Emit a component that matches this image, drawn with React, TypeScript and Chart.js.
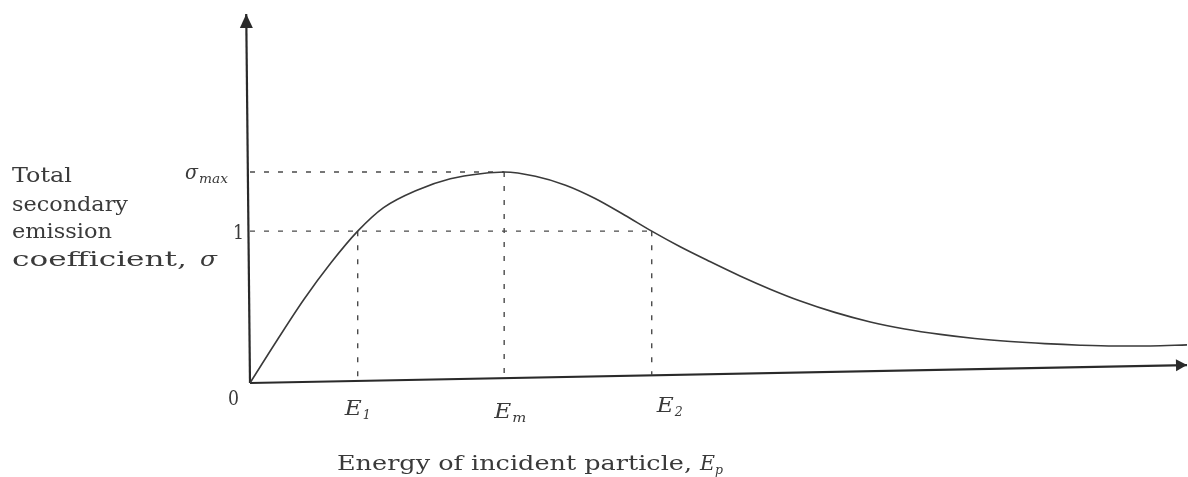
import React, { useEffect, useRef } from "react";
import { Chart, registerables } from "chart.js";

Chart.register(...registerables);

// Total secondary emission coefficient vs. incident particle energy (arbitrary units, E1 = 1)
const energy = [0, 0.25, 0.5, 0.75, 1.0, 1.24, 1.55, 1.86, 2.16, 2.36, 2.65, 2.93, 3.2, 3.48, 3.73, 3.99, 4.27, 4.55, 4.83, 5.11, 5.43, 5.76, 6.08, 6.41, 6.73, 7.06, 7.38, 7.71, 8.03, 8.36, 8.7];
const sigma = [0, 0.28, 0.55, 0.79, 1.0, 1.155, 1.27, 1.345, 1.38, 1.39, 1.362, 1.303, 1.217, 1.105, 1.0, 0.899, 0.8, 0.705, 0.618, 0.54, 0.465, 0.402, 0.356, 0.32, 0.293, 0.273, 0.259, 0.249, 0.244, 0.244, 0.251];

// Characteristic energies and coefficient levels
const E1 = 1.0;
const Em = 2.36;
const E2 = 3.73;
const sigmaMax = 1.39;
const unity = 1;

// Axis lines (the energy axis rises slightly toward its arrow)
const xAxisLine = [
  { x: 0, y: 0 },
  { x: 8.7, y: 0.118 },
];
const yAxisLine = [
  { x: 0, y: 0 },
  { x: -0.035, y: 2.43 },
];

// Text
const yTitleLines = ["Total", "secondary", "emission", "coefficient,"];
const xTitle = "Energy of incident particle,";

const INK = "#3a3a3a";
const AXIS_INK = "#2a2a2a";
const GUIDE_INK = "#4a4a4a";
const SERIF = '"DejaVu Serif", "Liberation Serif", serif';

// height of the energy axis at a given energy
const axisAt = (e: number) =>
  xAxisLine[0].y + ((xAxisLine[1].y - xAxisLine[0].y) * (e - xAxisLine[0].x)) / (xAxisLine[1].x - xAxisLine[0].x);

const guideStyle = {
  borderColor: GUIDE_INK,
  borderWidth: 1.4,
  borderDash: [5, 9],
  pointRadius: 0,
  fill: false,
  clip: false as const,
};

function drawFitted(ctx: CanvasRenderingContext2D, text: string, x: number, y: number, width: number | null, font: string) {
  ctx.save();
  ctx.font = font;
  ctx.textAlign = "left";
  ctx.textBaseline = "alphabetic";
  const w = ctx.measureText(text).width;
  ctx.translate(x, y);
  if (width) ctx.scale(width / w, 1);
  ctx.fillText(text, 0, 0);
  ctx.restore();
}

function drawArrow(ctx: CanvasRenderingContext2D, from: { x: number; y: number }, tip: { x: number; y: number }, len: number, half: number) {
  const dx = tip.x - from.x;
  const dy = tip.y - from.y;
  const d = Math.hypot(dx, dy);
  const ux = dx / d;
  const uy = dy / d;
  const bx = tip.x - ux * len;
  const by = tip.y - uy * len;
  ctx.beginPath();
  ctx.moveTo(tip.x, tip.y);
  ctx.lineTo(bx - uy * half, by + ux * half);
  ctx.lineTo(bx + uy * half, by - ux * half);
  ctx.closePath();
  ctx.fill();
}

const annotations = {
  id: "annotations",
  afterDatasetsDraw(chart: any) {
    const ctx: CanvasRenderingContext2D = chart.ctx;
    const xs = chart.scales.x;
    const ys = chart.scales.y;
    const px = (p: { x: number; y: number }) => ({ x: xs.getPixelForValue(p.x), y: ys.getPixelForValue(p.y) });

    ctx.save();
    ctx.fillStyle = AXIS_INK;
    drawArrow(ctx, px(xAxisLine[0]), px(xAxisLine[1]), 11, 6);
    drawArrow(ctx, px(yAxisLine[0]), px(yAxisLine[1]), 14, 6.5);

    ctx.fillStyle = INK;
    const f = (size: number, italic = false) => `${italic ? "italic " : ""}${size}px ${SERIF}`;

    // vertical axis title, written horizontally to the left
    const titleBase = [182, 211, 238, 266];
    const titleWidth = [60, 116, 100, 175];
    yTitleLines.forEach((line, i) => drawFitted(ctx, line, 12, titleBase[i], titleWidth[i], f(20)));
    drawFitted(ctx, "σ", 200, 266, 17, f(20, true));

    // level labels on the vertical axis
    const yMax = ys.getPixelForValue(sigmaMax);
    drawFitted(ctx, "σ", 185, yMax + 7, 13, f(20, true));
    drawFitted(ctx, "max", 199, yMax + 11, 29, f(13, true));
    const yOne = ys.getPixelForValue(unity);
    drawFitted(ctx, "1", 233, yOne + 8, 11, f(20));
    drawFitted(ctx, "0", 228, ys.getPixelForValue(0) + 22, 11, f(20));

    // characteristic energies on the horizontal axis
    const eLabels = [
      { v: E1, sub: "1", dx: -13, base: 415 },
      { v: Em, sub: "m", dx: -10, base: 418 },
      { v: E2, sub: "2", dx: 5, base: 412 },
    ];
    eLabels.forEach((l) => {
      const x = xs.getPixelForValue(l.v) + l.dx;
      drawFitted(ctx, "E", x, l.base, 17, f(20, true));
      drawFitted(ctx, l.sub, x + 18, l.base + 4, l.sub === "m" ? 14 : 8, f(13, true));
    });

    // horizontal axis title
    drawFitted(ctx, xTitle, 337, 470, 355, f(20));
    drawFitted(ctx, "E", 700, 470, 15, f(20, true));
    drawFitted(ctx, "p", 715, 474, 8, f(13, true));
    ctx.restore();
  },
};

export default function App() {
  const canvasRef = useRef<HTMLCanvasElement | null>(null);

  useEffect(() => {
    if (!canvasRef.current) return;
    const chart = new Chart(canvasRef.current, {
      type: "line",
      data: {
        datasets: [
          {
            label: "σ",
            data: energy.map((e, i) => ({ x: e, y: sigma[i] })),
            borderColor: "#3a3a3a",
            borderWidth: 1.6,
            pointRadius: 0,
            cubicInterpolationMode: "monotone",
            fill: false,
            clip: false,
          },
          { label: "σmax", data: [{ x: 0, y: sigmaMax }, { x: Em, y: sigmaMax }], ...guideStyle },
          { label: "unity", data: [{ x: 0, y: unity }, { x: E2, y: unity }], ...guideStyle },
          { label: "E1", data: [{ x: E1, y: unity }, { x: E1, y: axisAt(E1) }], ...guideStyle },
          { label: "Em", data: [{ x: Em, y: sigmaMax }, { x: Em, y: axisAt(Em) }], ...guideStyle },
          { label: "E2", data: [{ x: E2, y: unity }, { x: E2, y: axisAt(E2) }], ...guideStyle },
          { label: "x axis", data: xAxisLine, borderColor: AXIS_INK, borderWidth: 2.2, pointRadius: 0, clip: false },
          { label: "y axis", data: yAxisLine, borderColor: AXIS_INK, borderWidth: 2.2, pointRadius: 0, clip: false },
        ],
      },
      options: {
        responsive: false,
        animation: false,
        layout: { padding: { left: 250, right: 1, top: 14, bottom: 94 } },
        scales: {
          x: { type: "linear", min: 0, max: 8.7, display: false },
          y: { type: "linear", min: 0, max: 2.43, display: false },
        },
        plugins: { legend: { display: false }, tooltip: { enabled: false } },
      },
      plugins: [annotations],
    });
    return () => chart.destroy();
  }, []);

  return (
    <div style={{ position: "fixed", left: 0, top: 0, width: 1188, height: 477, background: "#fff" }}>
      <canvas ref={canvasRef} width={1188} height={477} style={{ display: "block" }} />
    </div>
  );
}
